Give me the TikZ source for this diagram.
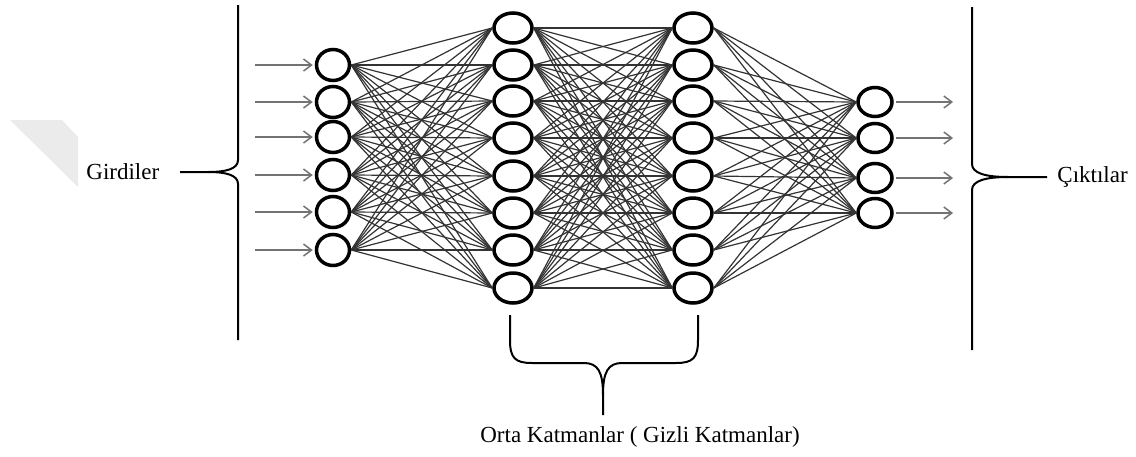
\documentclass[tikz,border=0pt]{standalone}
\usepackage{fontspec}
\setmainfont{Liberation Serif}
\usetikzlibrary{arrows.meta,shapes.geometric}
\begin{document}
\begin{tikzpicture}[x=0.5pt,y=-0.5pt,
  neuron/.style={draw=black,line width=1.75pt,ellipse,inner sep=0pt,minimum width=16.5pt,minimum height=15.5pt},
  hidneuron/.style={neuron,minimum width=19pt,minimum height=15pt},
  outneuron/.style={neuron,minimum width=17pt,minimum height=14.5pt},
  link/.style={draw=black!80,line width=0.6pt},
  signal/.style={draw=black!55,line width=0.75pt,-{Straight Barb[length=4pt,width=6pt]}},
  bracket/.style={draw=black,line width=1pt},
  lbl/.style={font=\fontsize{11.5pt}{13pt}\selectfont,inner sep=0pt}]
\useasboundingbox (0,0) rectangle (1136,456);
% faint diagonal band at the left edge
\fill[black!8] (10,120) -- (62,120) -- (78,137) -- (78,187) -- cycle;

% layers
\foreach \y [count=\i] in {65,102,137,175,212,250}
  \node[neuron] (in\i) at (333,\y) {};
\foreach \y [count=\i] in {28,65,101,138,176,213,250,288} {
  \node[hidneuron] (ha\i) at (513,\y) {};
  \node[hidneuron] (hb\i) at (693,\y) {};
}
\foreach \y [count=\i] in {102,138,178,213}
  \node[outneuron] (out\i) at (875,\y) {};

% full connections between consecutive layers
\foreach \i in {1,...,6}
  \foreach \j in {1,...,8}
    \draw[link] (in\i.east) -- (ha\j.west);
\foreach \i in {1,...,8}
  \foreach \j in {1,...,8}
    \draw[link] (ha\i.east) -- (hb\j.west);
\foreach \i in {1,...,8}
  \foreach \j in {1,...,4}
    \draw[link] (hb\i.east) -- (out\j.west);

% input and output signals
\foreach \i in {1,...,6} {
  \coordinate (src\i) at (255,0 |- in\i);
  \draw[signal] (src\i) -- ([xshift=-1]in\i.west);
}
\foreach \i in {1,...,4} {
  \coordinate (dst\i) at (953,0 |- out\i);
  \draw[signal] ([xshift=1]out\i.east) -- (dst\i);
}

% labels
\node[lbl,anchor=west] (girdi) at (86,172) {Girdiler};
\node[lbl,anchor=west] (cikti) at (1057,177) {Çıktılar};
\node[lbl] (orta) at (640,437) {Orta Katmanlar ( Gizli Katmanlar)};

% input brace
\coordinate (ltip) at (180,172);
\draw[bracket] (238,5) -- (238,160) .. controls (238,169) and (226,172) .. (208,172) -- (ltip);
\draw[bracket] (238,340) -- (238,184) .. controls (238,175) and (226,172) .. (208,172);

% output brace
\coordinate (rtip) at (1047,177);
\draw[bracket] (972,7) -- (972,164) .. controls (972,173) and (985,177) .. (1008,177) -- (rtip);
\draw[bracket] (972,350) -- (972,190) .. controls (972,181) and (985,177) .. (1008,177);

% hidden-layer brace
\coordinate (btip) at (603,415);
\draw[bracket] (510,315) -- (510,340) .. controls (510,358) and (515,363) .. (532,363) -- (584,363)
  .. controls (598,363) and (603,372) .. (603,395) -- (btip);
\draw[bracket] (698,315) -- (698,340) .. controls (698,358) and (693,363) .. (676,363) -- (622,363)
  .. controls (608,363) and (603,372) .. (603,395);
\end{tikzpicture}
\end{document}
